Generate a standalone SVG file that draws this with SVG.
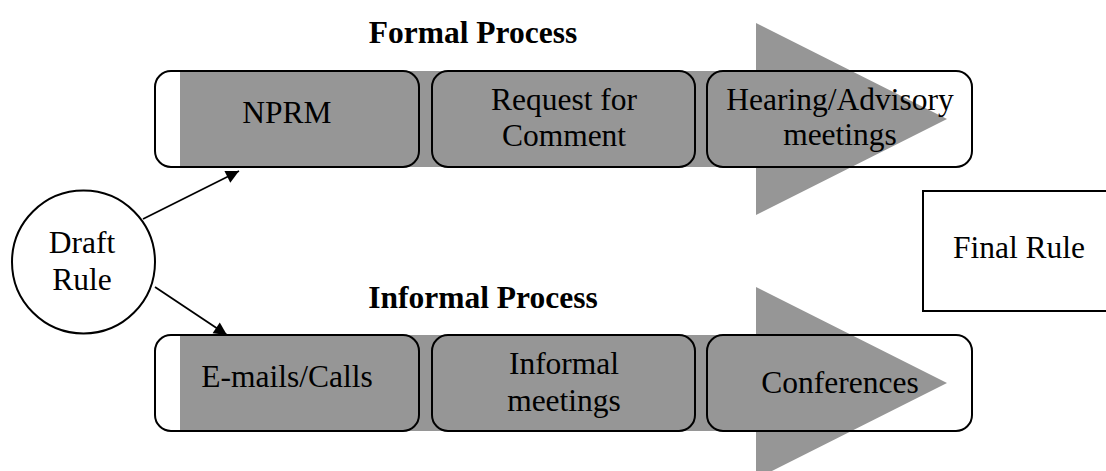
<svg xmlns="http://www.w3.org/2000/svg" width="1106" height="471" viewBox="0 0 1106 471">
  <style>
    .band { fill: #969696; }
    .step { fill: none; stroke: #000; stroke-width: 2; }
    .lbl { font-family: "Liberation Serif", "Times New Roman", serif; font-size: 31.5px; fill: #000; text-anchor: middle; }
    .title { font-family: "Liberation Serif", "Times New Roman", serif; font-size: 31.5px; font-weight: bold; fill: #000; text-anchor: middle; }
    .conn { stroke: #000; stroke-width: 1.8; fill: none; }
  </style>
  <defs>
    <marker id="head" viewBox="0 0 10 10" refX="10" refY="5" markerWidth="16" markerHeight="13" markerUnits="userSpaceOnUse" orient="auto" overflow="visible">
      <path d="M0,0 L10,5 L0,10 z" fill="#000"/>
    </marker>
  </defs>
  <rect width="1106" height="471" fill="#fff"/>

  <!-- formal track: block arrow behind the three steps -->
  <g id="formal-track">
    <polygon class="band" points="180,71 756,71 756,23 947,119 756,215 756,167 180,167"/>
    <text class="title" x="473" y="43">Formal Process</text>
  </g>
  <g id="nprm">
    <rect class="step" x="155" y="71" width="264" height="96" rx="16"/>
    <text class="lbl" x="287" y="123">NPRM</text>
  </g>
  <g id="request-comment">
    <rect class="step" x="432" y="71" width="263" height="96" rx="16"/>
    <text class="lbl" x="564" y="110">Request for</text>
    <text class="lbl" x="564" y="146">Comment</text>
  </g>
  <g id="hearing">
    <rect class="step" x="707" y="71" width="265" height="96" rx="16"/>
    <text class="lbl" x="840" y="110">Hearing/Advisory</text>
    <text class="lbl" x="840" y="145">meetings</text>
  </g>

  <!-- informal track -->
  <g id="informal-track">
    <polygon class="band" points="180,335 756,335 756,287 947,383 756,479 756,431 180,431"/>
    <text class="title" x="483" y="308">Informal Process</text>
  </g>
  <g id="emails">
    <rect class="step" x="155" y="335" width="264" height="96" rx="16"/>
    <text class="lbl" x="287" y="387">E-mails/Calls</text>
  </g>
  <g id="informal-meetings">
    <rect class="step" x="432" y="335" width="263" height="96" rx="16"/>
    <text class="lbl" x="564" y="374">Informal</text>
    <text class="lbl" x="564" y="411">meetings</text>
  </g>
  <g id="conferences">
    <rect class="step" x="707" y="335" width="265" height="96" rx="16"/>
    <text class="lbl" x="840" y="393">Conferences</text>
  </g>

  <!-- start and end nodes -->
  <g id="draft-rule">
    <circle cx="83.5" cy="262" r="71.5" fill="#fff" stroke="#000" stroke-width="2"/>
    <text class="lbl" x="82" y="253">Draft</text>
    <text class="lbl" x="82" y="290">Rule</text>
  </g>
  <g id="final-rule">
    <rect x="923" y="191" width="200" height="120" fill="#fff" stroke="#000" stroke-width="2"/>
    <text class="lbl" x="1019" y="258">Final Rule</text>
  </g>

  <g id="connectors">
    <line class="conn" x1="143" y1="219" x2="239" y2="171" marker-end="url(#head)"/>
    <line class="conn" x1="155" y1="287" x2="227" y2="335" marker-end="url(#head)"/>
  </g>
</svg>
